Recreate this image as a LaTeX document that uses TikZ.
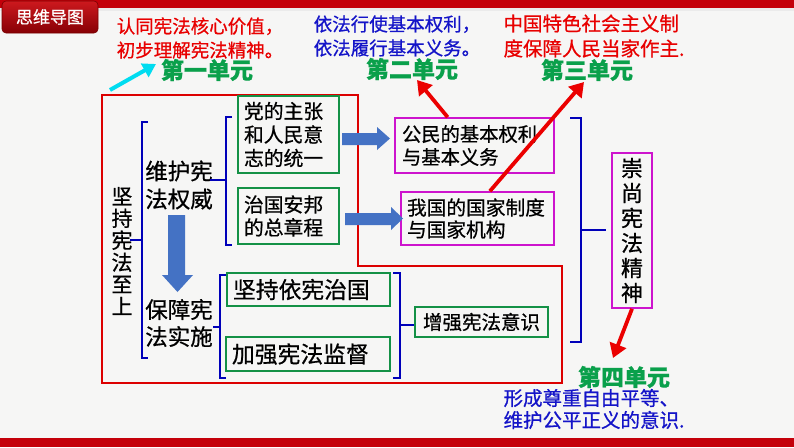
\documentclass[tikz,border=0pt]{standalone}
\usepackage{fontspec}
\setmainfont{Noto Sans CJK SC}[FakeBold=0.7]
\usetikzlibrary{arrows.meta,calc}
\definecolor{bandred}{RGB}{196,0,10}
\definecolor{bgcol}{RGB}{246,246,245}
\definecolor{txtred}{RGB}{232,0,0}
\definecolor{txtblue}{RGB}{20,20,200}
\definecolor{unitgreen}{RGB}{10,160,75}
\definecolor{boxgreen}{RGB}{20,145,70}
\definecolor{boxpink}{RGB}{205,20,205}
\definecolor{brkblue}{RGB}{0,0,185}
\definecolor{blockblue}{RGB}{68,114,196}
\definecolor{arrred}{RGB}{235,0,0}
\definecolor{arrcyan}{RGB}{0,220,240}
\definecolor{outred}{RGB}{220,0,0}
\newcommand\fsz[2]{\fontsize{#1}{#2}\selectfont}
\tikzset{
  gbox/.style={draw=boxgreen, line width=1.6pt, inner xsep=6pt, inner ysep=0pt, align=left},
  pbox/.style={draw=boxpink, line width=1.6pt, inner xsep=7pt, inner ysep=0pt, align=left},
  brk/.style={draw=brkblue, line width=1.4pt},
  redarr/.style={draw=arrred, line width=3.8pt, -{Triangle[length=14pt,width=17pt]}},
  cyanarr/.style={draw=arrcyan, line width=4pt, -{Triangle[length=13pt,width=15pt]}},
  blockarr/.style={fill=blockblue},
  unit/.style={text=unitgreen, font=\fsz{23}{26}\bfseries, inner sep=0pt},
  note/.style={inner sep=0pt, align=left},
  plain/.style={inner sep=0pt, align=center},
}
\begin{document}
\begin{tikzpicture}[x=1pt,y=-1pt]
\useasboundingbox (0,0) rectangle (794,447);
\fill[bgcol] (0,0) rectangle (794,447);
% bands
\fill[bandred] (0,0) rectangle (794,8);
\fill[black!8] (0,8) rectangle (794,11);
\fill[bandred] (0,438) rectangle (794,447);
% title tab
\node[rounded corners=4pt, top color={rgb,255:red,205;green,25;blue,30}, bottom color={rgb,255:red,135;green,0;blue,5}, draw={rgb,255:red,120;green,0;blue,0}, line width=0.6pt, minimum width=96pt, minimum height=32pt, inner sep=0pt, text=white, font=\fsz{17}{20}] (tab) at (50,17) {思维导图};

% top notes
\node[note, text=txtred, font=\fsz{18.5}{24}] (t1) at (200,38) {认同宪法核心价值，\\初步理解宪法精神。};
\node[note, text=txtblue, font=\fsz{18.5}{24}] (t2) at (397,36) {依法行使基本权利，\\依法履行基本义务。};
\node[note, text=txtred, font=\fsz{19.5}{25}] (t3) at (594,36) {中国特色社会主义制\\度保障人民当家作主.};
\node[note, text=txtblue, font=\fsz{19.5}{22}] (t4) at (594,409) {形成尊重自由平等、\\维护公平正义的意识.};

% units
\node[unit] (u1) at (207,70) {第一单元};
\node[unit] (u2) at (412,69) {第二单元};
\node[unit] (u3) at (587,70) {第三单元};
\node[unit] (u4) at (624,377) {第四单元};

% red outline of unit 1
\draw[outred, line width=1.4pt] (102,95) -- (358,95) -- (358,266) -- (562,266) -- (562,383) -- (102,383) -- cycle;

% left column
\node[plain, font=\fsz{21}{22}] (root) at (122,251) {坚\\持\\宪\\法\\至\\上};
\node[plain, font=\fsz{22.5}{28}] (wh) at (179,185) {维护宪\\法权威};
\node[plain, font=\fsz{22.5}{27}] (bz) at (179,323) {保障宪\\法实施};

% brackets
\draw[brk] (148,122) -- (142,122) -- (142,358) -- (148,358);
\draw[brk] (142,240) -- (130,240);
\draw[brk] (232,117) -- (226,117) -- (226,245) -- (232,245);
\draw[brk] (226,180) -- (210,180);
\draw[brk] (226,275) -- (220,275) -- (220,378) -- (226,378);
\draw[brk] (220,327) -- (213,327);
\draw[brk] (393,273) -- (400,273) -- (400,378) -- (393,378);
\draw[brk] (400,325) -- (415,325);
\draw[brk] (570,118) -- (581,118) -- (581,342) -- (570,342);
\draw[brk] (581,230) -- (606,230);

% boxes
\node[gbox, text width=89pt, minimum height=77pt, font=\fsz{19.8}{23.5}] (b1) at (288.5,134.5) {党的主张\\和人民意\\志的统一};
\node[gbox, text width=89pt, minimum height=56pt, font=\fsz{19.8}{23}] (b2) at (288.5,216) {治国安邦\\的总章程};
\node[pbox, text width=145pt, minimum height=55pt, font=\fsz{19.3}{23}] (p1) at (474.5,145.5) {公民的基本权利\\与基本义务};
\node[pbox, text width=141pt, minimum height=53pt, inner xsep=6pt, font=\fsz{19.7}{22}] (p2) at (477.5,218.5) {我国的国家制度\\与国家机构};
\node[draw=boxpink, line width=1.6pt, minimum width=40pt, minimum height=155pt, inner sep=0pt, align=center, font=\fsz{22}{25}] (v) at (632,230.5) {崇\\尚\\宪\\法\\精\\神};
\node[gbox, text width=151pt, minimum height=33pt, font=\fsz{22.8}{26}] (g1) at (308.5,289.5) {坚持依宪治国};
\node[gbox, text width=152pt, minimum height=34pt, font=\fsz{22.8}{26}] (g2) at (308,354) {加强宪法监督};
\node[gbox, text width=117pt, minimum height=30pt, inner xsep=8pt, font=\fsz{19.5}{22}] (g3) at (481.5,322) {增强宪法意识};

% block arrows
\fill[blockarr] (342,133) -- (377,133) -- (377,127) -- (390,138.5) -- (377,150) -- (377,145) -- (342,145) -- cycle;
\fill[blockarr] (345,213) -- (391,213) -- (391,207) -- (403,218.5) -- (391,230) -- (391,225) -- (345,225) -- cycle;
\fill[blockarr] (168,215) -- (185,215) -- (185,275) -- (193,275) -- (177.5,292) -- (162,275) -- (168,275) -- cycle;

% red arrows
\coordinate (a1s) at ($(p1.north west)!0.333!(p1.north east)$);
\coordinate (a1e) at (417,80);
\draw[redarr] (a1s) -- (a1e);
\coordinate (a2s) at ($(p2.north west)!0.58!(p2.north east)$);
\coordinate (a2e) at (584,82);
\draw[redarr] (a2s) -- (a2e);
\coordinate (a3e) at (613,358);
\draw[redarr] (v.south) -- (a3e);
% cyan arrow
\coordinate (c1s) at (110,90);
\coordinate (c1e) at (156,64);
\draw[cyanarr] (c1s) -- (c1e);
\end{tikzpicture}
\end{document}
